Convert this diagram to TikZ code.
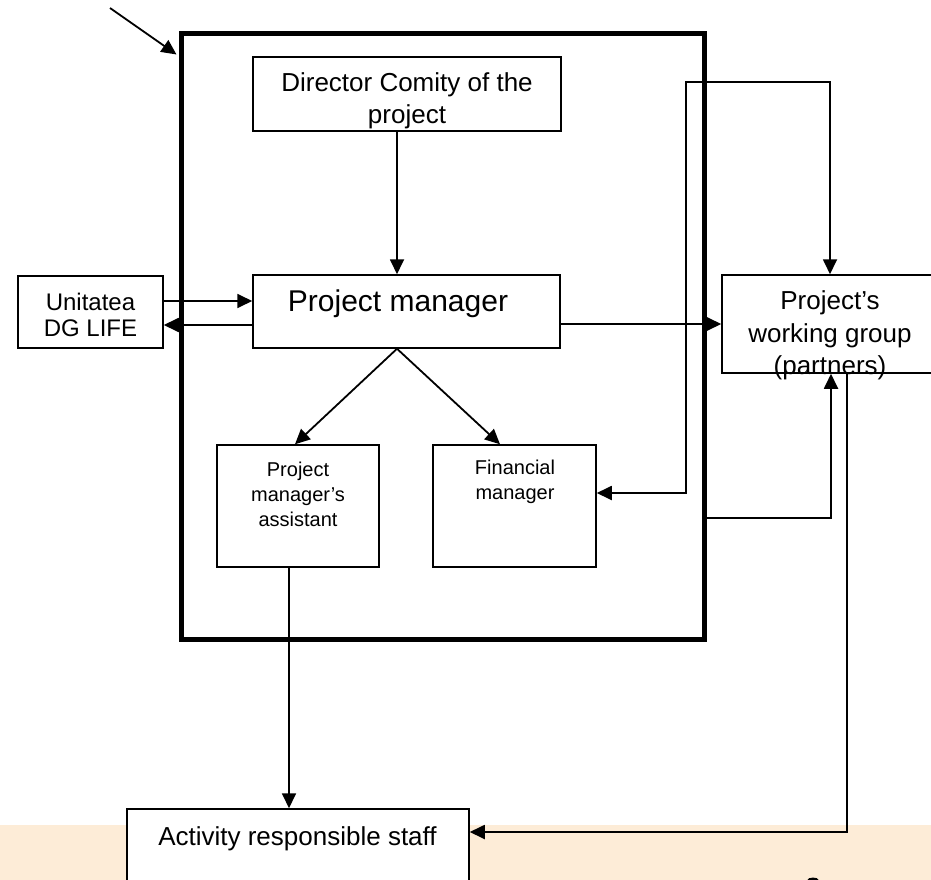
\documentclass[tikz,border=0pt]{standalone}
\usepackage{fontspec}
\setmainfont{Liberation Sans}
\usetikzlibrary{arrows.meta,calc}
\definecolor{beige}{RGB}{253,236,215}
\tikzset{
  box/.style={draw, line width=1.5pt, fill=white, inner sep=0pt},
  frm/.style={draw, line width=5pt, inner sep=0pt},
  conn/.style={line width=1.8pt, -{Triangle[length=15pt,width=14pt]}},
  conn2/.style={line width=1.8pt, {Triangle[length=15pt,width=14pt]}-{Triangle[length=15pt,width=14pt]}},
  txtbig/.style={align=center, inner sep=0pt, font=\fontsize{26pt}{32.5pt}\selectfont},
  txtmid/.style={align=center, inner sep=0pt, font=\fontsize{24pt}{26pt}\selectfont},
  txtsmall/.style={align=center, inner sep=0pt, font=\fontsize{20pt}{25pt}\selectfont}
}
\begin{document}
\begin{tikzpicture}[x=1pt,y=-1pt]
\useasboundingbox (0,0) rectangle (931,880);
\begin{scope}
\clip (0,0) rectangle (931,880);
\fill[beige] (0,825) rectangle (931,880);
% outer frame
\node[frm, minimum width=523pt, minimum height=605pt] (frame) at (442.5,336.5) {};
% boxes
\node[box, minimum width=308pt, minimum height=74pt] (dir) at (407,94) {};
\node[box, minimum width=307pt, minimum height=73pt] (pm) at (406.5,311.5) {};
\node[box, minimum width=145pt, minimum height=72pt] (uni) at (90.5,312) {};
\node[box, minimum width=210pt, minimum height=98pt] (wg) at (827,324) {};
\node[box, minimum width=162pt, minimum height=122pt] (asst) at (298,506) {};
\node[box, minimum width=163pt, minimum height=122pt] (fin) at (514.5,506) {};
\node[box, minimum width=342pt, minimum height=91pt] (act) at (298,854.5) {};
% texts
\node[txtbig] (tdir) at (407,101) {Director Comity of the\\project};
\node[txtbig, font=\fontsize{30pt}{36pt}\selectfont] (tpm) at (398,304) {Project manager};
\node[txtmid] (tuni) at (90.5,315) {Unitatea\\DG LIFE};
\node[txtbig] (twg) at (830,335.5) {Project’s\\working group\\(partners)};
\node[txtsmall] (tasst) at (298,494) {Project\\manager’s\\assistant};
\node[txtsmall] (tfin) at (515,482) {Financial\\manager};
\node[txtbig] (tact) at (297.5,839) {Activity responsible staff};
% partial mark at the bottom edge
\fill (807,880.5) .. controls (808,876.5) and (818,876.5) .. (819,880.5) -- cycle;
% connectors
\coordinate (dstart) at (110,8);
\draw[conn] (dstart) -- ($(frame.north west)+(-2,23)$);
\draw[conn] ([xshift=-10pt]dir.south) -- ([xshift=-9.5pt]pm.north);
\draw[conn] ([yshift=11pt]uni.east) -- ([yshift=11pt]uni.east -| pm.west);
\draw[conn] ([yshift=-13pt]uni.east -| pm.west) -- ([yshift=-13pt]uni.east);
\draw[conn] (wg.west -| pm.east) -- (wg.west);
\draw[conn] ([xshift=-9.5pt]pm.south) -- ([xshift=-3pt]asst.north);
\draw[conn] ([xshift=-9.5pt]pm.south) -- ([xshift=-14.5pt]fin.north);
\coordinate (bendL) at (686,82);
\draw[conn2] ([yshift=13pt]fin.east) -| (bendL) -| ([xshift=3pt]wg.north);
\draw[conn] ([yshift=-181.5pt]frame.east) -| ([xshift=4pt]wg.south);
\draw[conn] ([xshift=20pt]wg.south) |- ([yshift=22.5pt]act.east);
\draw[conn] ([xshift=-9pt]asst.south) -- ([xshift=-9pt]act.north);
\end{scope}
\end{tikzpicture}
\end{document}
